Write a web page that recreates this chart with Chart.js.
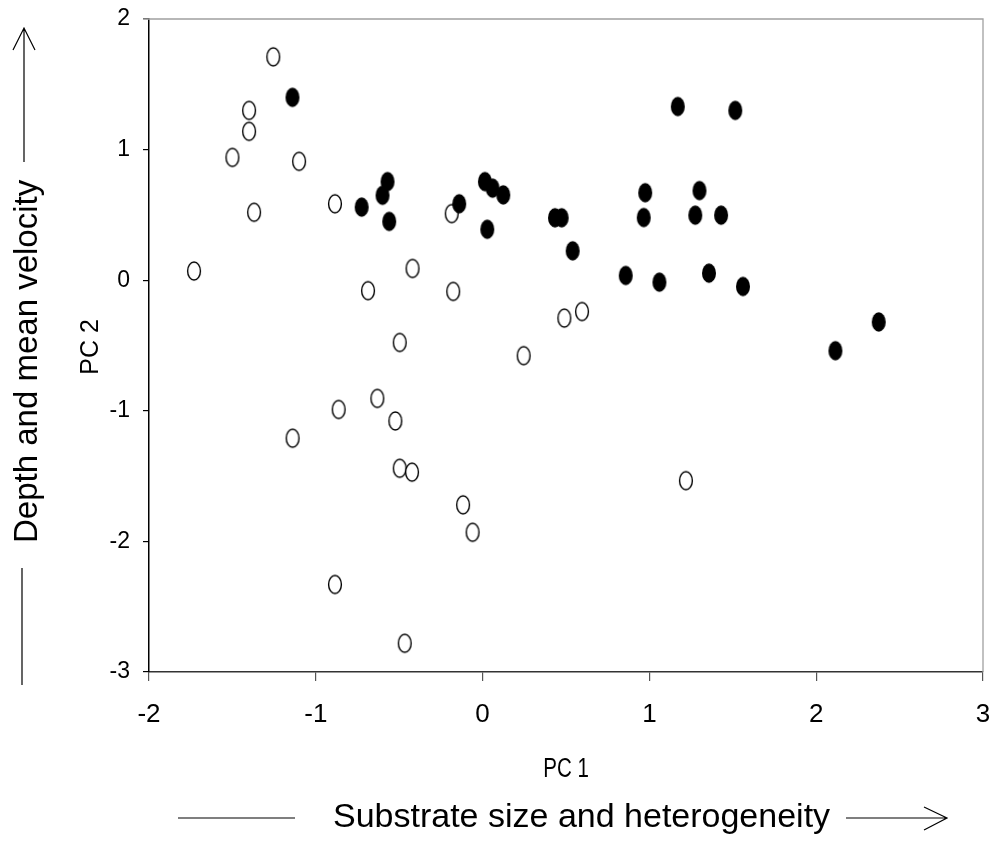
<!DOCTYPE html>
<html>
<head>
<meta charset="utf-8">
<title>PC1 vs PC2</title>
<script src="https://cdn.jsdelivr.net/npm/chart.js@4.4.1/dist/chart.umd.min.js"></script>
<style>
  body { margin: 0; background: #fff; }
  #wrap { width: 993px; height: 842px; }
</style>
</head>
<body>
<div id="wrap"><canvas id="pcaChart" width="993" height="842"></canvas></div>
<script>
// PC scores, filled sites
const filledX = [-1.14, -0.57, -0.60, -0.725, -0.56, -0.14, 0.014, 0.06, 0.124, 0.028,
    0.434, 0.474, 0.54, 1.17, 1.515, 0.975, 0.966, 1.30, 1.275, 1.43,
    0.858, 1.06, 1.357, 1.561, 2.375, 2.115];
const filledY = [1.40, 0.755, 0.65, 0.56, 0.45, 0.585, 0.755, 0.705, 0.653, 0.39,
    0.478, 0.478, 0.225, 1.33, 1.30, 0.67, 0.48, 0.686, 0.498, 0.498,
    0.036, -0.015, 0.054, -0.048, -0.32, -0.54];

// PC scores, open sites
const openX = [-1.255, -1.40, -1.40, -1.50, -1.10, -1.37, -1.73, -0.885, -0.185, -0.42,
    -0.687, -0.176, 0.49, 0.596, -0.497, 0.246, -0.631, -0.863, -0.523, -1.139,
    -0.497, -0.423, -0.117, -0.06, -0.885, -0.467, 1.219];
const openY = [1.71, 1.30, 1.14, 0.94, 0.91, 0.52, 0.07, 0.585, 0.51, 0.09,
    -0.08, -0.086, -0.29, -0.24, -0.477, -0.578, -0.905, -0.99, -1.078, -1.21,
    -1.44, -1.47, -1.72, -1.93, -2.33, -2.78, -1.535];

const xTicks = [-2, -1, 0, 1, 2, 3];
const yTicks = [-3, -2, -1, 0, 1, 2];
const xTitle = 'PC 1';
const yTitle = 'PC 2';
const xCaption = 'Substrate size and heterogeneity';
const yCaption = 'Depth and mean velocity';

function pairs(xs, ys) {
    return xs.map((x, i) => ({ x: x, y: ys[i] }));
}

// ellipse markers (a bit taller than wide, like the original)
function makeMarker(filled) {
    const c = document.createElement('canvas');
    c.width = 18;
    c.height = 24;
    const g = c.getContext('2d');
    g.beginPath();
    if (filled) {
        g.ellipse(9, 12, 7.0, 9.7, 0, 0, Math.PI * 2);
        g.fillStyle = '#000';
        g.fill();
    } else {
        g.ellipse(9, 12, 6.4, 9.0, 0, 0, Math.PI * 2);
        g.fillStyle = '#fff';
        g.fill();
        g.lineWidth = 1.4;
        g.strokeStyle = '#000';
        g.stroke();
    }
    return c;
}

const FONT = "'Liberation Sans', Arial, sans-serif";

const decorations = {
    id: 'decorations',
    afterDraw(chart) {
        const ctx = chart.ctx;
        const a = chart.chartArea;
        ctx.save();

        // grey frame top + right
        ctx.strokeStyle = '#a0a0a0';
        ctx.lineWidth = 1.3;
        ctx.beginPath();
        ctx.moveTo(a.left - 6, a.top);
        ctx.lineTo(a.right, a.top);
        ctx.lineTo(a.right, a.bottom);
        ctx.stroke();

        ctx.fillStyle = '#000';

        // PC 1 (squeezed a little, as in the source)
        ctx.save();
        ctx.font = '27px ' + FONT;
        ctx.textAlign = 'center';
        ctx.textBaseline = 'alphabetic';
        ctx.translate(566, 777);
        ctx.scale(0.76, 1);
        ctx.fillText(xTitle, 0, 0);
        ctx.restore();

        // PC 2
        ctx.save();
        ctx.font = '25px ' + FONT;
        ctx.textAlign = 'center';
        ctx.textBaseline = 'alphabetic';
        ctx.translate(98, 347);
        ctx.rotate(-Math.PI / 2);
        ctx.fillText(yTitle, 0, 0);
        ctx.restore();

        // big captions
        ctx.save();
        ctx.font = '34px ' + FONT;
        ctx.textAlign = 'left';
        ctx.textBaseline = 'alphabetic';
        ctx.fillText(xCaption, 333, 827);
        ctx.restore();

        ctx.save();
        ctx.font = '33px ' + FONT;
        ctx.textAlign = 'left';
        ctx.textBaseline = 'alphabetic';
        ctx.translate(37, 543);
        ctx.rotate(-Math.PI / 2);
        ctx.fillText(yCaption, 0, 0);
        ctx.restore();

        // arrows
        ctx.strokeStyle = '#000';
        ctx.lineWidth = 1.2;
        ctx.beginPath();
        // horizontal
        ctx.moveTo(178, 818); ctx.lineTo(295, 818);
        ctx.moveTo(846, 818); ctx.lineTo(947, 818);
        ctx.moveTo(924, 807); ctx.lineTo(947, 818); ctx.lineTo(924, 830);
        // vertical
        ctx.moveTo(22, 568); ctx.lineTo(22, 685);
        ctx.moveTo(24, 162); ctx.lineTo(24, 28);
        ctx.moveTo(13, 50); ctx.lineTo(24, 28); ctx.lineTo(35, 50);
        ctx.stroke();

        ctx.restore();
    }
};

window.onload = function () {
    const ctx = document.getElementById('pcaChart').getContext('2d');

    new Chart(ctx, {
        type: 'scatter',
        data: {
            datasets: [
                {
                    label: 'filled',
                    data: pairs(filledX, filledY),
                    pointStyle: makeMarker(true),
                    order: 1
                },
                {
                    label: 'open',
                    data: pairs(openX, openY),
                    pointStyle: makeMarker(false),
                    order: 2
                }
            ]
        },
        options: {
            responsive: false,
            animation: false,
            layout: { padding: { top: 19, right: 10, left: 0, bottom: 0 } },
            plugins: {
                legend: { display: false },
                tooltip: { enabled: false }
            },
            scales: {
                x: {
                    type: 'linear',
                    min: -2,
                    max: 3,
                    afterFit: (scale) => {
                        scale.height = 170;
                        scale.paddingLeft = 0;
                        scale.paddingRight = 0;
                    },
                    afterBuildTicks: (scale) => { scale.ticks = xTicks.map(v => ({ value: v })); },
                    ticks: {
                        color: '#000',
                        padding: 18,
                        maxRotation: 0,
                        font: { family: "'Liberation Sans Narrow', 'Liberation Sans', Arial", size: 26 }
                    },
                    grid: { drawOnChartArea: false, tickLength: 9, color: '#555', lineWidth: 1.2 },
                    border: { color: '#333', width: 1.5 }
                },
                y: {
                    type: 'linear',
                    min: -3,
                    max: 2,
                    afterFit: (scale) => {
                        scale.width = 149;
                        scale.paddingTop = 0;
                        scale.paddingBottom = 0;
                    },
                    afterBuildTicks: (scale) => { scale.ticks = yTicks.map(v => ({ value: v })); },
                    ticks: {
                        color: '#000',
                        padding: 13,
                        font: { family: FONT, size: 23 }
                    },
                    grid: { drawOnChartArea: false, tickLength: 6, color: '#000', lineWidth: 1.2 },
                    border: { color: '#000', width: 1.5 }
                }
            }
        },
        plugins: [decorations]
    });
};
</script>
</body>
</html>
